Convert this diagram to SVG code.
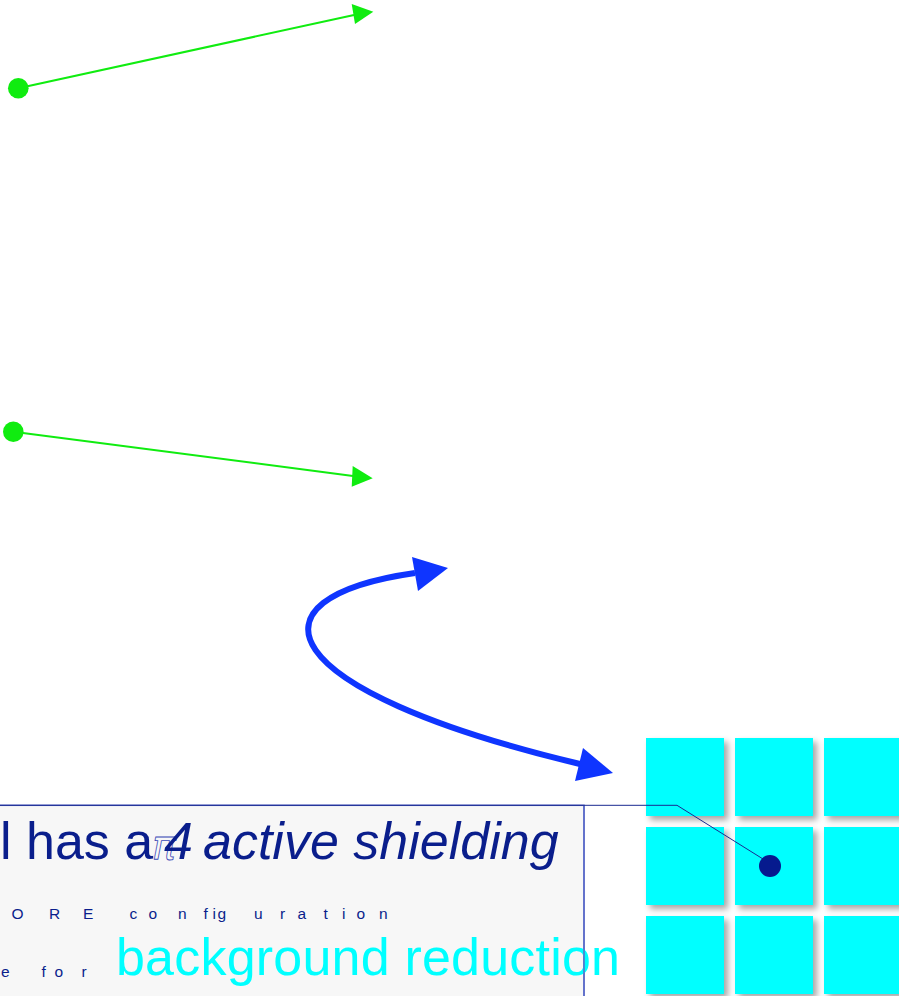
<svg xmlns="http://www.w3.org/2000/svg" width="899" height="996" viewBox="0 0 899 996">
<style>
.sq{fill:#00ffff;filter:url(#sh)}
.navy{fill:#0a1e8c;font-family:"Liberation Sans",Arial,sans-serif}
.big{font-size:52px}
.small{font-size:15.5px;font-variant-ligatures:none}
.green{stroke:#10ec10;stroke-width:2;fill:none}
.gfill{fill:#10ec10}
.bfill{fill:#0f35ff}
</style>
<defs>
<filter id="sh" x="-20%" y="-20%" width="150%" height="150%">
<feDropShadow dx="4" dy="4" stdDeviation="3" flood-color="#000" flood-opacity="0.35"/>
</filter>
</defs>
<rect width="899" height="996" fill="#ffffff"/>
<g id="connectors">
<line class="green" x1="18.3" y1="88.3" x2="354" y2="15"/>
<circle class="gfill" cx="18.3" cy="88.3" r="10.3"/>
<polygon class="gfill" points="373.3,11.7 351.7,4 355,24"/>
<line class="green" x1="13.3" y1="431.7" x2="353" y2="476"/>
<circle class="gfill" cx="13.3" cy="431.7" r="10.3"/>
<polygon class="gfill" points="372.7,478.3 352.7,466 351.7,486.7"/>
<path d="M415,573 C240,598 270,690 580,764" fill="none" stroke="#0f35ff" stroke-width="6"/>
<polygon class="bfill" points="448,568 412,557 418,591"/>
<polygon class="bfill" points="613,773 583,748 575,781"/>
</g>
<g id="textbox">
<rect x="-2" y="805.3" width="586" height="200" fill="#f7f7f7" stroke="#5a6ac8" stroke-width="1.5"/>
<text class="navy big" x="0" y="859">l has a </text>
<text x="152" y="859" font-family="'DejaVu Sans',sans-serif" font-size="40" font-style="italic" fill="none" stroke="#3a4ab8" stroke-width="0.8">π</text>
<text class="navy big" y="859" font-style="italic"><tspan x="164">4</tspan><tspan x="203">active shielding</tspan></text>
<text class="navy small" y="919" x="11.5 49 83 100 129.5 148.5 178 203.5 212.5 217.5 254 280 297.5 323.5 342 356.5 379">ORE configuration</text>
<text class="navy small" y="977" x="1 30 41.5 54.5 81.5">e for</text>
<text x="116" y="975" font-family="'Liberation Sans',Arial,sans-serif" font-size="52" fill="#00ffff" textLength="504">background reduction</text>
<line x1="584" y1="805.3" x2="584" y2="996" stroke="#5a6ac8" stroke-width="1.5"/>
</g>
<g id="grid">
<g id="sq11"><rect class="sq" x="646" y="738" width="78" height="78"/></g>
<g id="sq12"><rect class="sq" x="735" y="738" width="78" height="78"/></g>
<g id="sq13"><rect class="sq" x="824" y="738" width="78" height="78"/></g>
<g id="sq21"><rect class="sq" x="646" y="827" width="78" height="78"/></g>
<g id="sq22"><rect class="sq" x="735" y="827" width="78" height="78"/></g>
<g id="sq23"><rect class="sq" x="824" y="827" width="78" height="78"/></g>
<g id="sq31"><rect class="sq" x="646" y="916" width="78" height="78"/></g>
<g id="sq32"><rect class="sq" x="735" y="916" width="78" height="78"/></g>
<g id="sq33"><rect class="sq" x="824" y="916" width="78" height="78"/></g>
</g>
<g id="leader">
<polyline points="0,805.3 677,805.3 763,859" fill="none" stroke="#1a2a90" stroke-width="1"/>
<circle cx="770" cy="866" r="11" fill="#061a8e"/>
</g>
</svg>
